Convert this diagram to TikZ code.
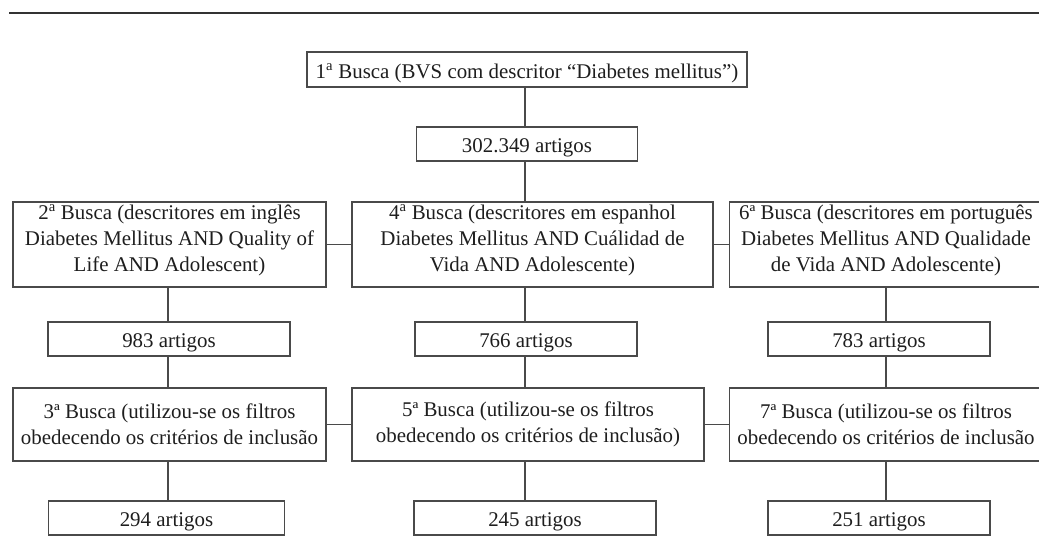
\documentclass[tikz,border=0pt]{standalone}
\usepackage{fontspec}
\setmainfont{Liberation Serif}
\usetikzlibrary{positioning}
\definecolor{fxline}{HTML}{4A4A4A}
\definecolor{fxrule}{HTML}{333333}
\definecolor{fxink}{HTML}{1E1E1E}
\tikzset{
  fx text/.style={font=\fontsize{20.9}{26.3}\selectfont, text=fxink},
  fx box/.style={draw=fxline, line width=1.1pt, fill=white, align=center,
    inner sep=0pt},
  fx line/.style={fx box, text height=17.5, text depth=0},
  fx search/.style={fx box, minimum width=313, minimum height=85},
  fx filter/.style={fx box, minimum width=313, minimum height=73},
  fx count/.style={fx line, minimum width=236, minimum height=34},
  fx link/.style={draw=fxline, line width=1.1pt}
}

\begin{document}
\begin{tikzpicture}[fx text, x=1pt, y=-1pt]
  \useasboundingbox (0,0) rectangle (1039,555);
  \clip (0,0) rectangle (1039,555);
  \draw[draw=fxrule, line width=1.4pt] (9,13) -- (1039,13);
  % first search
  \node[fx line, minimum width=440, minimum height=35] (busca1) at (527,69.5)
    {1\textsuperscript{a} Busca (BVS com descritor “Diabetes mellitus”)};
  \node[fx line, minimum width=221, minimum height=34] (total) at (527,144) {302.349 artigos};
  % descriptor searches
  \node[fx search] (busca2) at (169.5,244.5)
    {2\textsuperscript{a} Busca (descritores em inglês\\Diabetes Mellitus AND Quality of\\Life AND Adolescent)\\[-14pt]\mbox{}};
  \node[fx search, minimum width=361] (busca4) at (532.5,244.5)
    {4\textsuperscript{a} Busca (descritores em espanhol\\Diabetes Mellitus AND Cuálidad de\\Vida AND Adolescente)\\[-14pt]\mbox{}};
  \node[fx search] (busca6) at (886,244.5)
    {6ª Busca (descritores em português\\Diabetes Mellitus AND Qualidade\\de Vida AND Adolescente)\\[-14pt]\mbox{}};
  \node[fx count, minimum width=242] (res2) at (169,339) {983 artigos};
  \node[fx count, minimum width=222] (res4) at (526,339) {766 artigos};
  \node[fx count, minimum width=222] (res6) at (879,339) {783 artigos};
  % filter searches
  \node[fx filter] (busca3) at (169.5,424.5)
    {3ª Busca (utilizou-se os filtros\\obedecendo os critérios de inclusão};
  \node[fx filter, minimum width=352] (busca5) at (528,424.5)
    {5ª Busca (utilizou-se os filtros\\obedecendo os critérios de inclusão)};
  \node[fx filter] (busca7) at (886,424.5)
    {7ª Busca (utilizou-se os filtros\\obedecendo os critérios de inclusão};
  \node[fx count] (res3) at (166.5,518) {294 artigos};
  \node[fx count, minimum width=242] (res5) at (535,518) {245 artigos};
  \node[fx count, minimum width=222] (res7) at (879,518) {251 artigos};
  % connectors
  \path[fx link] (busca1.south -| 525,0) coordinate (c1) -- (c1 |- total.north);
  \path[fx link] (total.south -| 525,0) coordinate (c2) -- (c2 |- busca4.north);
  \path[fx link] (busca2.east) -- (busca4.west);
  \path[fx link] (busca4.east) -- (busca6.west);
  \path[fx link] (busca3.east) -- (busca5.west);
  \path[fx link] (busca5.east) -- (busca7.west);
  \path[fx link] (busca2.south -| 168,0) coordinate (l1) -- (l1 |- res2.north);
  \path[fx link] (res2.south -| 168,0) coordinate (l2) -- (l2 |- busca3.north);
  \path[fx link] (busca3.south -| 168,0) coordinate (l3) -- (l3 |- res3.north);
  \path[fx link] (busca4.south -| 525,0) coordinate (m1) -- (m1 |- res4.north);
  \path[fx link] (res4.south -| 525,0) coordinate (m2) -- (m2 |- busca5.north);
  \path[fx link] (busca5.south -| 525,0) coordinate (m3) -- (m3 |- res5.north);
  \path[fx link] (busca6.south -| 886,0) coordinate (r1) -- (r1 |- res6.north);
  \path[fx link] (res6.south -| 886,0) coordinate (r2) -- (r2 |- busca7.north);
  \path[fx link] (busca7.south -| 886,0) coordinate (r3) -- (r3 |- res7.north);
\end{tikzpicture}
\end{document}
